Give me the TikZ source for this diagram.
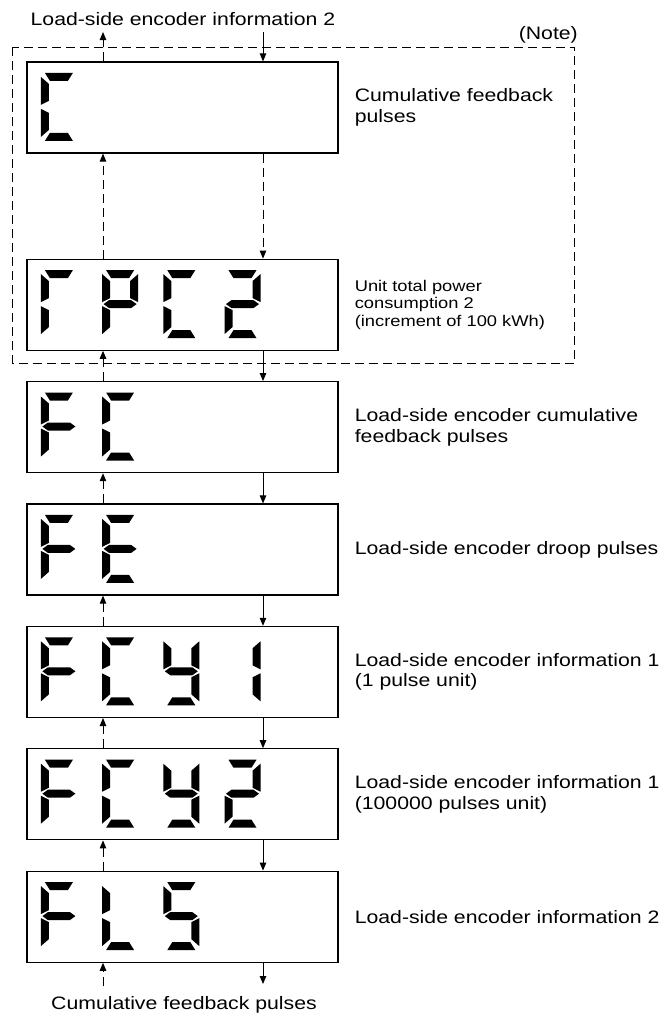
\documentclass[tikz,border=0pt]{standalone}
\usepackage{fontspec}
\setmainfont{Liberation Sans}[FakeStretch=1.18]
\usetikzlibrary{arrows.meta,positioning}

% segments of one display digit (36 x 68), x right, y down
\newcommand\dsega{\fill (4,0) -- (32,0) -- (27,8) -- (9,8) -- cycle;}
\newcommand\dsegd{\fill (4,68) -- (32,68) -- (27,60) -- (9,60) -- cycle;}
\newcommand\dsegf{\fill (0,4) -- (8,11) -- (8,28) -- (0,32) -- cycle;}
\newcommand\dsege{\fill (0,64) -- (8,57) -- (8,40) -- (0,36) -- cycle;}
\newcommand\dsegb{\fill (36,4) -- (28,11) -- (28,28) -- (36,32) -- cycle;}
\newcommand\dsegc{\fill (36,64) -- (28,57) -- (28,40) -- (36,36) -- cycle;}
\newcommand\dsegg{\fill (1.5,34) -- (7,30) -- (29,30) -- (34.5,34) -- (29,38) -- (7,38) -- cycle;}

% #1 box node, #2 digits, each one a list of lit segments
\newcommand\lcdshow[2]{%
  \foreach \segs [count=\i from 0] in {#2} {
    \begin{scope}[shift={(#1.north west)}, xshift=14.5pt+61.2pt*\i, yshift=-11.5pt]
      \foreach \s in \segs {\csname dseg\s\endcsname}
    \end{scope}
  }}

\tikzset{
  dispbox/.style={draw, line width=1.2pt, minimum width=311pt, minimum height=91pt, inner sep=0pt},
  desc/.style={align=left, inner sep=0pt, font=\fontsize{18}{20.5}\selectfont},
  smalldesc/.style={desc, font=\fontsize{15.5}{17.5}\selectfont},
  lbl/.style={inner sep=0pt, font=\fontsize{18}{20.5}\selectfont},
  conn/.style={line width=1pt, -{Triangle[length=8pt, width=6.5pt]}},
  dashconn/.style={conn, dash pattern=on 9pt off 5pt},
  notebox/.style={line width=1pt, dash pattern=on 9pt off 5pt}
}

\begin{document}
\begin{tikzpicture}[x=1pt, y=-1pt]
  \useasboundingbox (0,0) rectangle (663,1023);

  \coordinate (upx) at (103,0);
  \coordinate (dnx) at (263,0);

  % display boxes
  \node[dispbox] (cum) at (182.5,107.5) {};
  \node[dispbox, below=105pt of cum] (rpc) {};
  \node[dispbox, below=30.2pt of rpc] (fc) {};
  \node[dispbox, below=30.2pt of fc] (fe) {};
  \node[dispbox, below=30.2pt of fe] (fcy1) {};
  \node[dispbox, below=30.2pt of fcy1] (fcy2) {};
  \node[dispbox, below=30.2pt of fcy2] (fls) {};

  \lcdshow{cum}{{a,f,e,d}}
  \lcdshow{rpc}{{a,f,e},{a,b,f,g,e},{a,f,e,d},{a,b,g,e,d}}
  \lcdshow{fc}{{a,f,g,e},{a,f,e,d}}
  \lcdshow{fe}{{a,f,g,e},{a,f,g,e,d}}
  \lcdshow{fcy1}{{a,f,g,e},{a,f,e,d},{b,c,d,f,g},{b,c}}
  \lcdshow{fcy2}{{a,f,g,e},{a,f,e,d},{b,c,d,f,g},{a,b,g,e,d}}
  \lcdshow{fls}{{a,f,g,e},{f,e,d},{a,f,g,c,d}}

  % descriptions
  \node[desc, right=16pt of cum] {Cumulative feedback\\pulses};
  \node[smalldesc, right=16pt of rpc] {Unit total power\\consumption 2\\(increment of 100 kWh)};
  \node[desc, right=16pt of fc] {Load-side encoder cumulative\\feedback pulses};
  \node[desc, right=16pt of fe] {Load-side encoder droop pulses};
  \node[desc, right=16pt of fcy1] {Load-side encoder information 1\\(1 pulse unit)};
  \node[desc, right=16pt of fcy2] {Load-side encoder information 1\\(100000 pulses unit)};
  \node[desc, right=16pt of fls] {Load-side encoder information 2};

  % note frame
  \draw[notebox] (12.7,47) rectangle (574.6,363);
  \node[lbl, anchor=east] (note) at (578,35) {(Note)};

  % in and out at the ends
  \node[lbl] (toplbl) at (183,19) {Load-side encoder information 2};
  \node[lbl] (botlbl) at (184,1005) {Cumulative feedback pulses};
  \coordinate (topout) at (103,32);
  \coordinate (topin) at (263,32);
  \coordinate (botin) at (103,986);
  \coordinate (botout) at (263,984);
  \draw[dashconn] (cum.north -| topout) -- (topout);
  \draw[conn] (topin) -- (cum.north -| topin);
  \draw[dashconn] (botin) -- (fls.south -| botin);
  \draw[conn] (fls.south -| botout) -- (botout);

  % between the boxes
  \draw[dashconn] (rpc.north -| upx) -- (cum.south -| upx);
  \draw[dashconn] (cum.south -| dnx) -- (rpc.north -| dnx);
  \foreach \a/\b in {rpc/fc, fc/fe, fe/fcy1, fcy1/fcy2, fcy2/fls} {
    \draw[dashconn] (\b.north -| upx) -- (\a.south -| upx);
    \draw[conn] (\a.south -| dnx) -- (\b.north -| dnx);
  }
\end{tikzpicture}
\end{document}
